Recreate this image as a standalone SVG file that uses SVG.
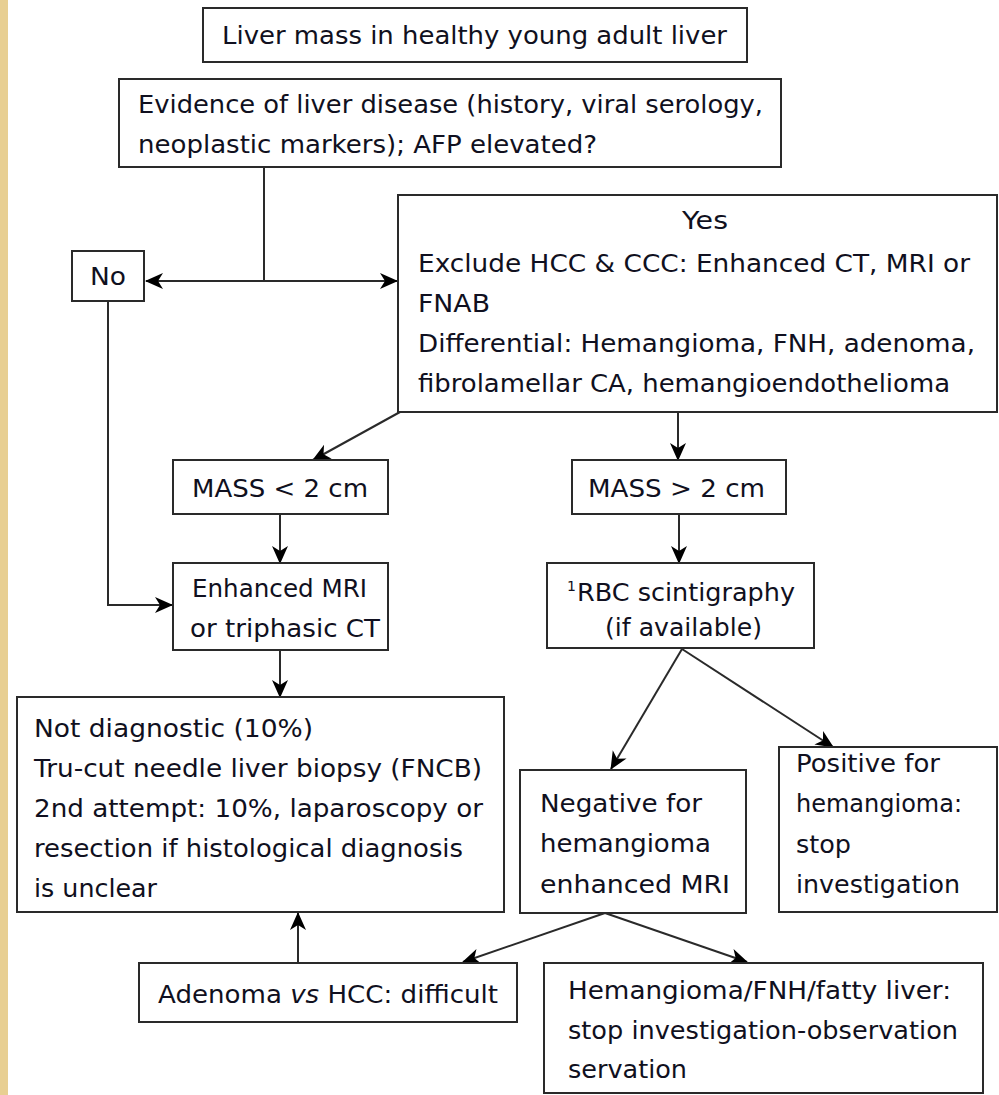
<svg xmlns="http://www.w3.org/2000/svg" width="999" height="1095" viewBox="0 0 999 1095">
<defs>
<style>
.box{fill:#fff;stroke:#2a2a2a;stroke-width:2}
.t{font-family:"DejaVu Sans",Verdana,sans-serif;font-size:25.5px;fill:#101020}
.c{fill:none;stroke:#2a2a2a;stroke-width:2}
</style>
<marker id="ah" markerWidth="18" markerHeight="18" refX="17" refY="9" orient="auto" markerUnits="userSpaceOnUse">
<path d="M0,1 L18,9 L0,17 L5,9 z" fill="#000"/>
</marker>
</defs>
<rect x="0" y="0" width="999" height="1095" fill="#fff"/>
<rect x="0" y="0" width="8" height="1095" fill="#e8cf92"/>

<g id="connectors">
<path class="c" d="M264,167 V281"/>
<path class="c" d="M264,281 H146" marker-end="url(#ah)"/>
<path class="c" d="M264,281 H397" marker-end="url(#ah)"/>
<path class="c" d="M108,301 V605 H172" marker-end="url(#ah)"/>
<path class="c" d="M400,412 L313,460" marker-end="url(#ah)"/>
<path class="c" d="M678,412 V460" marker-end="url(#ah)"/>
<path class="c" d="M280,514 V563" marker-end="url(#ah)"/>
<path class="c" d="M679,514 V563" marker-end="url(#ah)"/>
<path class="c" d="M280,650 V697" marker-end="url(#ah)"/>
<path class="c" d="M682,649 L611,769" marker-end="url(#ah)"/>
<path class="c" d="M682,649 L833,747" marker-end="url(#ah)"/>
<path class="c" d="M605,913 L463,962" marker-end="url(#ah)"/>
<path class="c" d="M605,913 L747,962" marker-end="url(#ah)"/>
<path class="c" d="M298,963 V913" marker-end="url(#ah)"/>
</g>

<g id="n1">
<rect class="box" x="203" y="8" width="544" height="54"/>
<text class="t" x="222" y="44" textLength="505" lengthAdjust="spacingAndGlyphs">Liver mass in healthy young adult liver</text>
</g>
<g id="n2">
<rect class="box" x="119" y="79" width="662" height="88"/>
<text class="t" x="138" y="113" textLength="625" lengthAdjust="spacingAndGlyphs">Evidence of liver disease (history, viral serology,</text>
<text class="t" x="138" y="153" textLength="459" lengthAdjust="spacingAndGlyphs">neoplastic markers); AFP elevated?</text>
</g>
<g id="no">
<rect class="box" x="72" y="251" width="72" height="50"/>
<text class="t" x="90" y="285" textLength="36" lengthAdjust="spacingAndGlyphs">No</text>
</g>
<g id="yes">
<rect class="box" x="398" y="195" width="599" height="217"/>
<text class="t" x="682" y="229" textLength="46" lengthAdjust="spacingAndGlyphs">Yes</text>
<text class="t" x="418" y="272" textLength="552" lengthAdjust="spacingAndGlyphs">Exclude HCC &amp; CCC: Enhanced CT, MRI or</text>
<text class="t" x="418" y="312" textLength="72" lengthAdjust="spacingAndGlyphs">FNAB</text>
<text class="t" x="418" y="352" textLength="557" lengthAdjust="spacingAndGlyphs">Differential: Hemangioma, FNH, adenoma,</text>
<text class="t" x="418" y="392" textLength="532" lengthAdjust="spacingAndGlyphs">fibrolamellar CA, hemangioendothelioma</text>
</g>
<g id="mass-lt">
<rect class="box" x="173" y="460" width="215" height="54"/>
<text class="t" x="192" y="497" textLength="176" lengthAdjust="spacingAndGlyphs">MASS &lt; 2 cm</text>
</g>
<g id="mass-gt">
<rect class="box" x="572" y="460" width="214" height="54"/>
<text class="t" x="588" y="497" textLength="177" lengthAdjust="spacingAndGlyphs">MASS &gt; 2 cm</text>
</g>
<g id="mri">
<rect class="box" x="173" y="563" width="215" height="87"/>
<text class="t" x="192" y="597" textLength="175" lengthAdjust="spacingAndGlyphs">Enhanced MRI</text>
<text class="t" x="190" y="637" textLength="190" lengthAdjust="spacingAndGlyphs">or triphasic CT</text>
</g>
<g id="rbc">
<rect class="box" x="547" y="563" width="267" height="85"/>
<text class="t"><tspan x="567" y="591" font-size="14">1</tspan><tspan x="577" y="601">RBC scintigraphy</tspan></text>
<text class="t" x="605" y="636" textLength="157" lengthAdjust="spacingAndGlyphs">(if available)</text>
</g>
<g id="notdiag">
<rect class="box" x="17" y="697" width="487" height="215"/>
<text class="t" x="34" y="737" textLength="279" lengthAdjust="spacingAndGlyphs">Not diagnostic (10%)</text>
<text class="t" x="34" y="777" textLength="448" lengthAdjust="spacingAndGlyphs">Tru-cut needle liver biopsy (FNCB)</text>
<text class="t" x="34" y="817" textLength="449" lengthAdjust="spacingAndGlyphs">2nd attempt: 10%, laparoscopy or</text>
<text class="t" x="34" y="857" textLength="429" lengthAdjust="spacingAndGlyphs">resection if histological diagnosis</text>
<text class="t" x="34" y="897" textLength="123" lengthAdjust="spacingAndGlyphs">is unclear</text>
</g>
<g id="negative">
<rect class="box" x="520" y="770" width="226" height="143"/>
<text class="t" x="540" y="812" textLength="162" lengthAdjust="spacingAndGlyphs">Negative for</text>
<text class="t" x="540" y="852" textLength="171" lengthAdjust="spacingAndGlyphs">hemangioma</text>
<text class="t" x="540" y="893" textLength="190" lengthAdjust="spacingAndGlyphs">enhanced MRI</text>
</g>
<g id="positive">
<rect class="box" x="779" y="747" width="218" height="165"/>
<text class="t" x="796" y="772" textLength="144" lengthAdjust="spacingAndGlyphs">Positive for</text>
<text class="t" x="796" y="812" textLength="166" lengthAdjust="spacingAndGlyphs">hemangioma:</text>
<text class="t" x="796" y="853" textLength="55" lengthAdjust="spacingAndGlyphs">stop</text>
<text class="t" x="796" y="893" textLength="164" lengthAdjust="spacingAndGlyphs">investigation</text>
</g>
<g id="adenoma">
<rect class="box" x="139" y="963" width="378" height="59"/>
<text class="t" x="158" y="1003" textLength="340" lengthAdjust="spacingAndGlyphs">Adenoma <tspan font-style="italic">vs</tspan> HCC: difficult</text>
</g>
<g id="hemangioma">
<rect class="box" x="544" y="963" width="439" height="130"/>
<text class="t" x="568" y="999" textLength="383" lengthAdjust="spacingAndGlyphs">Hemangioma/FNH/fatty liver:</text>
<text class="t" x="568" y="1039" textLength="390" lengthAdjust="spacingAndGlyphs">stop investigation-observation</text>
<text class="t" x="568" y="1078" textLength="119" lengthAdjust="spacingAndGlyphs">servation</text>
</g>
</svg>
